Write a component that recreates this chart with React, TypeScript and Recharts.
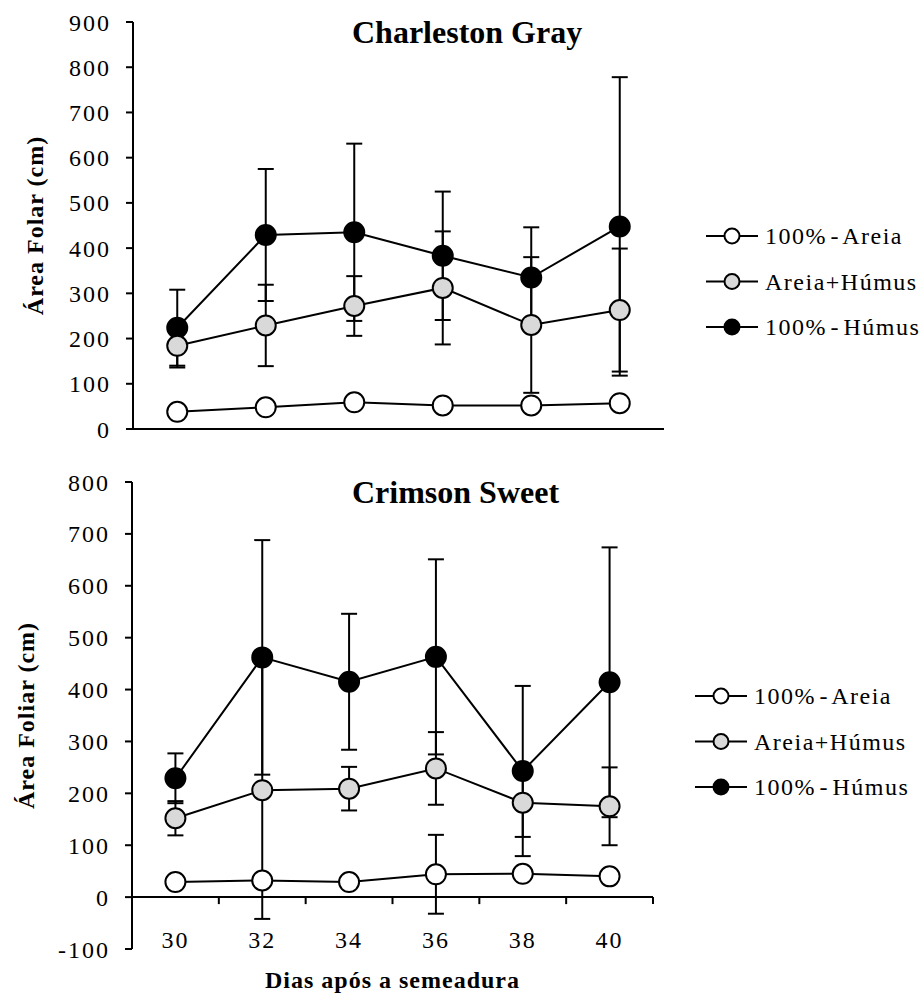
import React from 'react';
import { LineChart, Line, XAxis, YAxis, ErrorBar, ReferenceLine, Legend } from 'recharts';

// days after sowing, and the band edges where the axis ticks sit
const days = [30, 32, 34, 36, 38, 40];
const dayBounds = [29, 31, 33, 35, 37, 39, 41];

// Charleston Gray
const cgAreia = [38, 48, 59, 52, 52, 57];
const cgAreiaErr = [10, 10, 10, 10, 10, 10];
const cgMix = [184, 229, 272, 312, 230, 263];
const cgMixErr = [48, 90, 66, 125, 150, 136];
const cgHumus = [224, 429, 435, 383, 335, 448];
const cgHumusErr = [84, 146, 196, 142, 111, 330];

// Crimson Sweet
const csAreia = [29, 32, 29, 44, 45, 40];
const csAreiaErr = [10, 10, 10, 76, 10, 10];
const csMix = [152, 206, 209, 248, 182, 175];
const csMixErr = [33, 248, 42, 70, 66, 75];
const csHumus = [229, 462, 415, 463, 243, 414];
const csHumusErr = [48, 226, 131, 188, 164, 260];

const cgTicks = [0, 100, 200, 300, 400, 500, 600, 700, 800, 900];
const csTicks = [-100, 0, 100, 200, 300, 400, 500, 600, 700, 800];

// drawn back to front: black, grey, open
const series = [
  { key: 'humus', name: '100% - Húmus', fill: '#000000' },
  { key: 'mix', name: 'Areia+Húmus', fill: '#d9d9d9' },
  { key: 'areia', name: '100% - Areia', fill: '#ffffff' },
];
const legendOrder = [...series].reverse();

const buildRows = (a: number[], ae: number[], m: number[], me: number[], h: number[], he: number[]) =>
  days.map((day, i) => ({
    day,
    areia: a[i], areiaErr: ae[i],
    mix: m[i], mixErr: me[i],
    humus: h[i], humusErr: he[i],
  }));

const cgData = buildRows(cgAreia, cgAreiaErr, cgMix, cgMixErr, cgHumus, cgHumusErr);
const csData = buildRows(csAreia, csAreiaErr, csMix, csMixErr, csHumus, csHumusErr);

const TICK_PX = 7;

const LegendBox = () => (
  <svg width={215} height={140} style={{ display: 'block', overflow: 'visible' }}>
    {legendOrder.map((s, i) => {
      const cy = 26 + i * 45.5;
      return (
        <g key={s.key}>
          <line x1={0} x2={52} y1={cy} y2={cy} stroke="#000" strokeWidth={2} />
          <circle cx={26} cy={cy} r={7.5} fill={s.fill} stroke="#000" strokeWidth={2} />
          <text x={59} y={cy} dy="0.34em" fontSize={24} fill="#000" letterSpacing={1.5} wordSpacing={-4}>
            {s.name}
          </text>
        </g>
      );
    })}
  </svg>
);

const yTitle = (text: string, x: number) => (props: any) => {
  const vb = props.viewBox;
  const cy = vb.y + vb.height / 2;
  return (
    <text
      x={x}
      y={cy}
      transform={`rotate(-90 ${x} ${cy})`}
      textAnchor="middle"
      fontSize={24}
      fontWeight="bold"
      letterSpacing={1}
      fill="#000"
    >
      {text}
    </text>
  );
};

const DayTick = (props: any) => (
  <text x={props.x} y={props.y - 1} textAnchor="middle" fontSize={24} fill="#000" letterSpacing={2}>
    {props.payload.value}
  </text>
);

const renderSeries = () =>
  series.map(s => (
    <Line
      key={s.key}
      type="linear"
      dataKey={s.key}
      name={s.name}
      stroke="#000"
      strokeWidth={2}
      dot={{ r: 10, fill: s.fill, stroke: '#000', strokeWidth: 2 }}
      activeDot={false}
      isAnimationActive={false}
    >
      <ErrorBar dataKey={`${s.key}Err`} width={8} stroke="#000" strokeWidth={2} direction="y" />
    </Line>
  ));

const titleStyle: React.CSSProperties = {
  position: 'absolute',
  left: 352,
  top: 16,
  fontSize: 32,
  lineHeight: '32px',
  fontWeight: 'bold',
  letterSpacing: 0,
  whiteSpace: 'nowrap',
};

const App = () => {
  const cgPlotH = 407;
  const csPlotH = 467;
  const csTickUnits = (TICK_PX * 900) / csPlotH;

  return (
    <div
      style={{
        position: 'absolute',
        left: 0,
        top: 0,
        width: 921,
        height: 994,
        background: '#fff',
        fontFamily: '"Liberation Serif", "Times New Roman", serif',
        letterSpacing: '2px',
      }}
    >
      {/* Charleston Gray */}
      <div style={{ position: 'absolute', left: 0, top: 0, width: 921, height: 460 }}>
        <LineChart width={921} height={460} data={cgData} margin={{ top: 22, right: 257, bottom: 0, left: 73 }}>
          <XAxis
            type="number"
            dataKey="day"
            domain={[29, 41]}
            ticks={dayBounds}
            tick={false}
            tickSize={TICK_PX}
            height={31}
            axisLine={{ stroke: '#000', strokeWidth: 2 }}
            tickLine={{ stroke: '#000', strokeWidth: 2 }}
          />
          <YAxis
            type="number"
            domain={[0, 900]}
            ticks={cgTicks}
            interval={0}
            width={60}
            tickSize={TICK_PX}
            tickMargin={15}
            tick={{ fill: '#000', fontSize: 24 }}
            axisLine={{ stroke: '#000', strokeWidth: 2 }}
            tickLine={{ stroke: '#000', strokeWidth: 2 }}
            label={yTitle('Área Folar (cm)', 43)}
          />
          {renderSeries()}
          <Legend
            layout="horizontal"
            verticalAlign="middle"
            align="center"
            wrapperStyle={{ left: 706, top: 210, width: 215 }}
            content={() => <LegendBox />}
          />
        </LineChart>
        <div style={titleStyle}>Charleston Gray</div>
      </div>

      {/* Crimson Sweet */}
      <div style={{ position: 'absolute', left: 0, top: 460, width: 921, height: 534 }}>
        <LineChart width={921} height={534} data={csData} margin={{ top: 22, right: 268, bottom: 0, left: 72 }}>
          <XAxis
            type="number"
            dataKey="day"
            domain={[29, 41]}
            ticks={days}
            axisLine={false}
            tickLine={false}
            tickSize={0}
            tickMargin={0}
            height={45}
            tick={(p: any) => <DayTick {...p} />}
            label={{
              value: 'Dias após a semeadura',
              position: 'insideBottom',
              offset: 6,
              fontSize: 24,
              fontWeight: 'bold',
              fill: '#000',
              letterSpacing: 1,
            }}
          />
          <YAxis
            type="number"
            domain={[-100, 800]}
            ticks={csTicks}
            interval={0}
            width={60}
            tickSize={TICK_PX}
            tickMargin={15}
            tick={{ fill: '#000', fontSize: 24 }}
            axisLine={{ stroke: '#000', strokeWidth: 2 }}
            tickLine={{ stroke: '#000', strokeWidth: 2 }}
            label={yTitle('Área Foliar (cm)', 34)}
          />
          <ReferenceLine y={0} stroke="#000" strokeWidth={2} />
          {dayBounds.map(b => (
            <ReferenceLine
              key={b}
              segment={[{ x: b, y: 0 }, { x: b, y: -csTickUnits }]}
              stroke="#000"
              strokeWidth={2}
            />
          ))}
          {renderSeries()}
          <Legend
            layout="horizontal"
            verticalAlign="middle"
            align="center"
            wrapperStyle={{ left: 695, top: 210, width: 215 }}
            content={() => <LegendBox />}
          />
        </LineChart>
        <div style={titleStyle}>Crimson Sweet</div>
      </div>
    </div>
  );
};

export default App;
